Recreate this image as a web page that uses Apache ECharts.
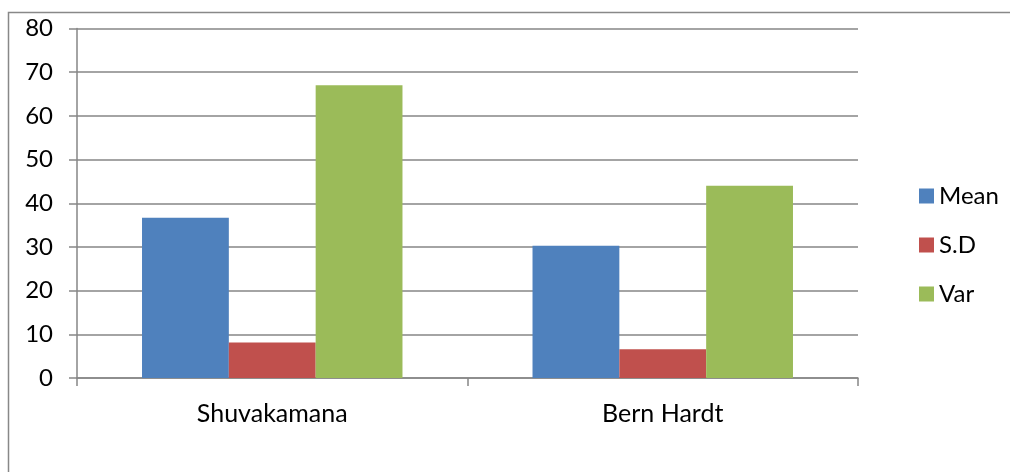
<!DOCTYPE html>
<html>
<head>
<meta charset="utf-8">
<script src="https://cdn.jsdelivr.net/npm/echarts@6/dist/echarts.min.js"></script>
<style>
    html,body{margin:0;padding:0;background:#fff;}
    #main{width:1010px;height:472px;}
</style>
</head>
<body>
<div id="main"></div>
<script>
var categories=['Shuvakamana','Bern Hardt'];
var meanData=[36.7,30.3];
var sdData=[8.1,6.6];
var varData=[67.0,44.0];
var seriesNames=['Mean','S.D','Var'];

$ready();
function $ready(){
    var dom=document.getElementById('main');
    var myChart=echarts.init(dom);
    var font='Lato';
    function bar(name,data,color){
        return {
            name:name,
            type:'bar',
            data:data,
            barGap:'0%',
            barCategoryGap:'33.3%',
            itemStyle:{color:color},
            animation:false
        };
    }
    var option={
        backgroundColor:'#fff',
        graphic:[{
            type:'rect',
            shape:{x:8.5,y:12.5,width:1100,height:600},
            style:{fill:'none',stroke:'#888',lineWidth:1.5},
            silent:true
        }],
        grid:{
            left:77,
            right:152,
            top:28.5,
            bottom:94
        },
        legend:{
            orient:'vertical',
            left:914,
            top:179,
            itemWidth:15,
            itemHeight:15,
            itemGap:25,
            itemTextGap:7,
            icon:'rect',
            data:seriesNames,
            textStyle:{fontFamily:font,fontSize:24,color:'#000',lineHeight:22}
        },
        xAxis:{
            type:'category',
            data:categories,
            axisLine:{lineStyle:{color:'#868686',width:1.5}},
            axisTick:{show:true,length:8,lineStyle:{color:'#868686',width:1.5}},
            axisLabel:{fontFamily:font,fontSize:25,color:'#000',margin:23}
        },
        yAxis:{
            type:'value',
            min:0,
            max:80,
            interval:10,
            axisLine:{show:true,lineStyle:{color:'#868686',width:1.5}},
            axisTick:{show:true,length:8,lineStyle:{color:'#868686',width:1.5}},
            axisLabel:{fontFamily:font,fontSize:24,color:'#000',margin:24},
            splitLine:{show:true,lineStyle:{color:'#868686',width:1.5}}
        },
        series:[
            bar(seriesNames[0],meanData,'#4F81BD'),
            bar(seriesNames[1],sdData,'#C0504D'),
            bar(seriesNames[2],varData,'#9BBB59')
        ]
    };
    myChart.setOption(option,true);
}
</script>
</body>
</html>
